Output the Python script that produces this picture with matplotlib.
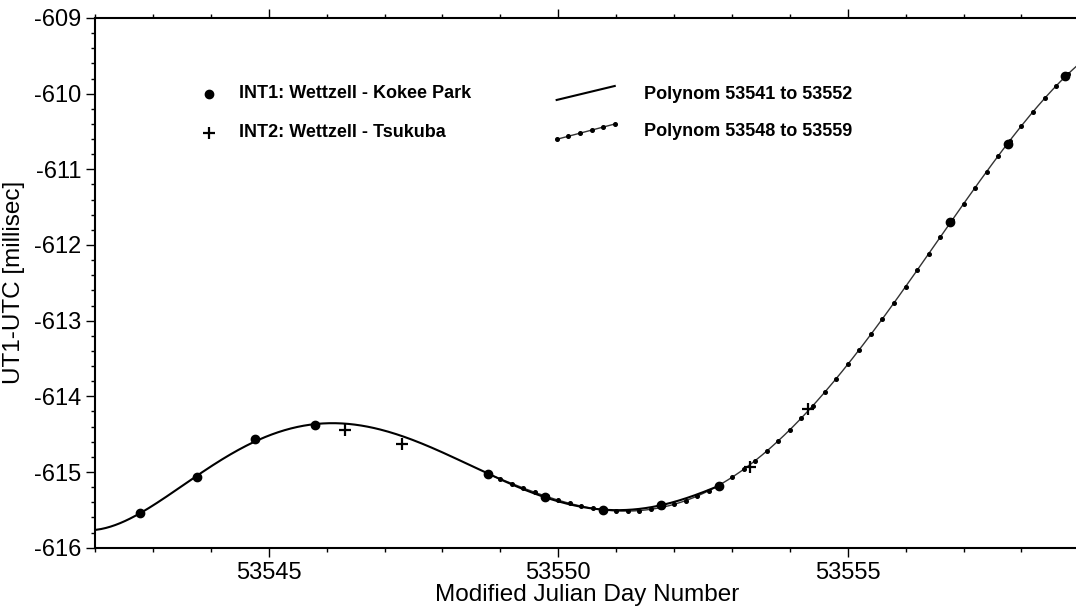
import numpy as np
import matplotlib
matplotlib.use("Agg")
import matplotlib.pyplot as plt
from matplotlib.ticker import MultipleLocator

plt.rcParams['font.family'] = ['Liberation Sans', 'DejaVu Sans']

# INT1 sessions (Wettzell - Kokee Park): MJD and UT1-UTC [ms]
int1_mjd = [53542.78, 53543.77, 53544.77, 53545.80, 53548.78, 53549.78,
            53550.77, 53551.77, 53552.78, 53556.77, 53557.76, 53558.76]
int1_ut1 = [-615.54, -615.06, -614.57, -614.38, -615.02, -615.33,
            -615.50, -615.44, -615.18, -611.70, -610.67, -609.77]

# INT2 sessions (Wettzell - Tsukuba)
int2_mjd = [53546.32, 53547.31, 53553.32, 53554.32]
int2_ut1 = [-614.44, -614.63, -614.93, -614.17]

# fit windows of the two polynomials
poly_a_window = (53541.0, 53552.8)
poly_b_window = (53548.8, 53559.0)

x0 = 53550.0  # reference epoch for a well-conditioned fit
x1 = np.array(int1_mjd) - x0
y1 = np.array(int1_ut1)
x2 = np.array(int2_mjd) - x0
y2 = np.array(int2_ut1)


def fit_poly(lo, hi, deg, with_int2):
    xa = np.concatenate([x1, x2]) if with_int2 else x1
    ya = np.concatenate([y1, y2]) if with_int2 else y1
    sel = (xa >= lo - x0 - 0.05) & (xa <= hi - x0 + 0.05)
    return np.polyfit(xa[sel], ya[sel], deg)


coef_a = fit_poly(*poly_a_window, 5, False)
coef_b = fit_poly(*poly_b_window, 5, True)

fig = plt.figure(figsize=(10.76, 6.07), dpi=100)
ax = fig.add_axes([0.0883, 0.0977, 0.9148, 0.8727])

# polynomial 53541-53552 (solid)
xs_a = np.linspace(53541.8, poly_a_window[1], 400)
ax.plot(xs_a, np.polyval(coef_a, xs_a - x0), color='black', lw=1.5, zorder=3)

# polynomial 53548-53559 (thin line with dots every 0.2 d)
xs_b = np.linspace(poly_b_window[0], poly_b_window[1], 400)
ax.plot(xs_b, np.polyval(coef_b, xs_b - x0), color='#333333', lw=1.0, zorder=2)
xd_b = np.arange(poly_b_window[0], poly_b_window[1] + 1e-6, 0.2)
ax.plot(xd_b, np.polyval(coef_b, xd_b - x0), ls='none', marker='o', ms=2.6,
        color='black', zorder=2)

ax.plot(int1_mjd, int1_ut1, ls='none', marker='o', ms=6, color='black', zorder=4)
ax.plot(int2_mjd, int2_ut1, ls='none', marker='+', ms=9, mew=1.6,
        color='black', zorder=4)

ax.set_xlim(53542, 53559)
ax.set_ylim(-616, -609)
ax.xaxis.set_major_locator(MultipleLocator(5))
ax.xaxis.set_minor_locator(MultipleLocator(1))
ax.yaxis.set_major_locator(MultipleLocator(1))
ax.yaxis.set_minor_locator(MultipleLocator(0.2))
ax.xaxis.set_major_formatter(plt.FuncFormatter(lambda v, p: f"{v:.0f}"))
ax.yaxis.set_major_formatter(plt.FuncFormatter(lambda v, p: f"{v:.0f}"))

for s in ax.spines.values():
    s.set_linewidth(1.5)
ax.tick_params(which='both', direction='out', top=True, right=False,
               width=1.0, labelsize=17)
ax.tick_params(which='major', length=6.5, pad=3.5)
ax.tick_params(which='minor', length=3)

ax.set_xlabel('Modified Julian Day Number', fontsize=17.5, labelpad=0)
ax.set_ylabel('UT1-UTC [millisec]', fontsize=17.5, labelpad=6)

# legend block, left column
tr = ax.transAxes
ax.plot([0.1158], [0.8565], transform=tr, marker='o', ms=6, color='black',
        ls='none', clip_on=False)
ax.plot([0.1158], [0.7835], transform=tr, marker='+', ms=9, mew=1.6,
        color='black', ls='none', clip_on=False)
ax.text(0.1463, 0.8565, 'INT1: Wettzell - Kokee Park', transform=tr,
        fontsize=13, fontweight='bold', va='center', ha='left')
ax.text(0.1463, 0.7835, 'INT2: Wettzell - Tsukuba', transform=tr,
        fontsize=13, fontweight='bold', va='center', ha='left')

# legend block, right column (slanted sample lines)
ax.plot([0.469, 0.528], [0.8452, 0.8716], transform=tr, color='black', lw=1.5)
lx = np.linspace(0.469, 0.528, 6)
ly = np.linspace(0.7709, 0.7998, 6)
ax.plot(lx, ly, transform=tr, color='#333333', lw=1.0)
ax.plot(lx, ly, transform=tr, ls='none', marker='o', ms=2.6, color='black')
ax.text(0.5575, 0.8546, 'Polynom 53541 to 53552', transform=tr,
        fontsize=13, fontweight='bold', va='center', ha='left')
ax.text(0.5575, 0.7848, 'Polynom 53548 to 53559', transform=tr,
        fontsize=13, fontweight='bold', va='center', ha='left')

fig.savefig('out.png', dpi=100)
